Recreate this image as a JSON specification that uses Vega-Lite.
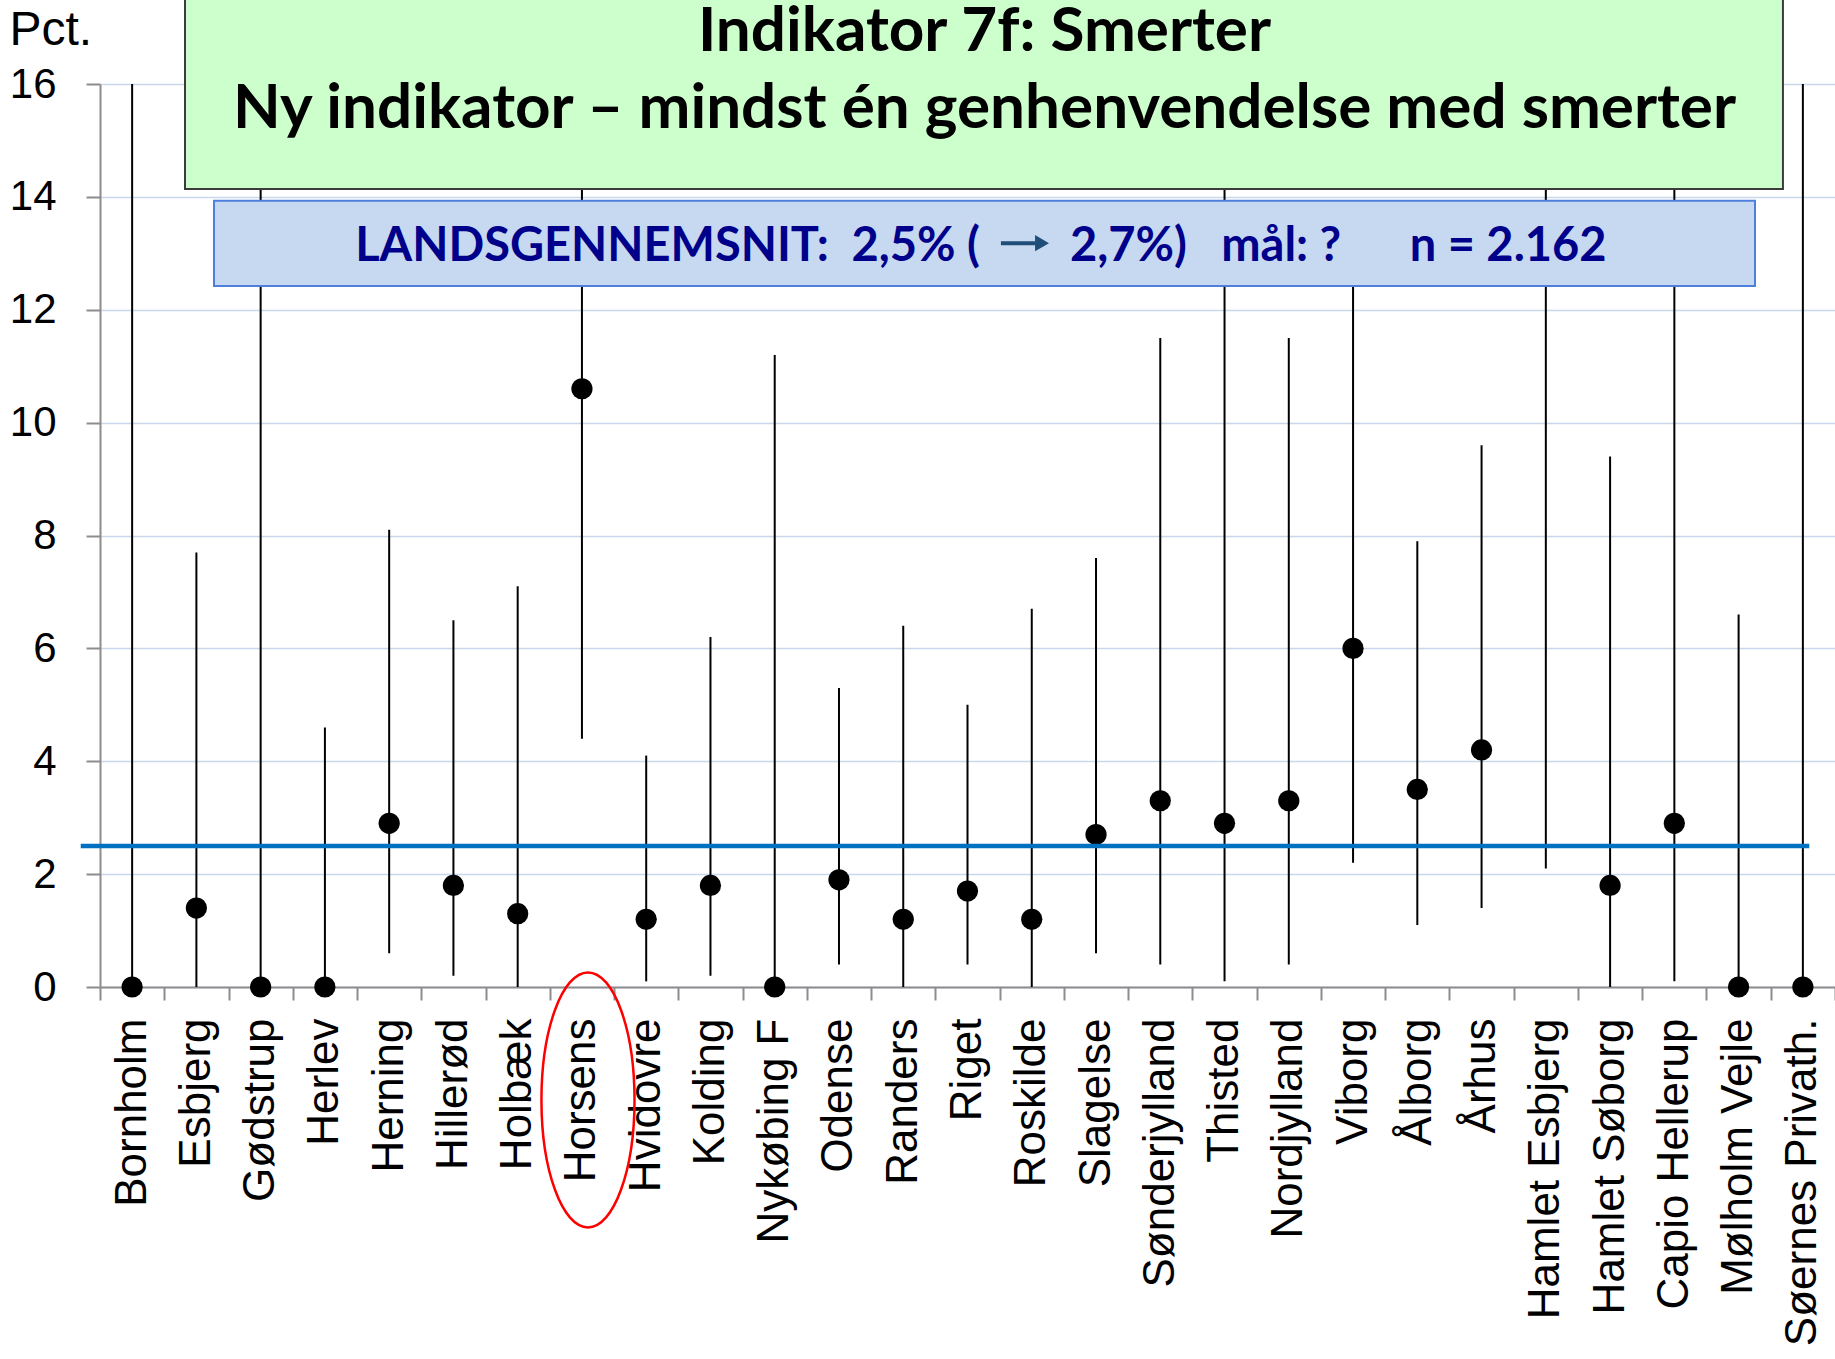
{
  "$schema": "https://vega.github.io/schema/vega-lite/v6.json",
  "autosize": {"type": "none"},
  "width": 1735,
  "height": 903,
  "padding": {"left": 100, "top": 84, "right": 0, "bottom": 372},
  "background": "white",
  "config": {"view": {"stroke": null}, "font": "Liberation Sans"},
  "datasets": {
    "afdelinger": [
      {"afdeling": "Bornholm", "andel": 0, "nedre": 0, "oevre": 16},
      {"afdeling": "Esbjerg", "andel": 1.4, "nedre": 0, "oevre": 7.7},
      {"afdeling": "Gødstrup", "andel": 0, "nedre": 0, "oevre": 16},
      {"afdeling": "Herlev", "andel": 0, "nedre": 0, "oevre": 4.6},
      {"afdeling": "Herning", "andel": 2.9, "nedre": 0.6, "oevre": 8.1},
      {"afdeling": "Hillerød", "andel": 1.8, "nedre": 0.2, "oevre": 6.5},
      {"afdeling": "Holbæk", "andel": 1.3, "nedre": 0, "oevre": 7.1},
      {"afdeling": "Horsens", "andel": 10.6, "nedre": 4.4, "oevre": 16},
      {"afdeling": "Hvidovre", "andel": 1.2, "nedre": 0.1, "oevre": 4.1},
      {"afdeling": "Kolding", "andel": 1.8, "nedre": 0.2, "oevre": 6.2},
      {"afdeling": "Nykøbing F", "andel": 0, "nedre": 0, "oevre": 11.2},
      {"afdeling": "Odense", "andel": 1.9, "nedre": 0.4, "oevre": 5.3},
      {"afdeling": "Randers", "andel": 1.2, "nedre": 0, "oevre": 6.4},
      {"afdeling": "Riget", "andel": 1.7, "nedre": 0.4, "oevre": 5.0},
      {"afdeling": "Roskilde", "andel": 1.2, "nedre": 0, "oevre": 6.7},
      {"afdeling": "Slagelse", "andel": 2.7, "nedre": 0.6, "oevre": 7.6},
      {"afdeling": "Sønderjylland", "andel": 3.3, "nedre": 0.4, "oevre": 11.5},
      {"afdeling": "Thisted", "andel": 2.9, "nedre": 0.1, "oevre": 16},
      {"afdeling": "Nordjylland", "andel": 3.3, "nedre": 0.4, "oevre": 11.5},
      {"afdeling": "Viborg", "andel": 6.0, "nedre": 2.2, "oevre": 13.0},
      {"afdeling": "Ålborg", "andel": 3.5, "nedre": 1.1, "oevre": 7.9},
      {"afdeling": "Århus", "andel": 4.2, "nedre": 1.4, "oevre": 9.6},
      {"afdeling": "Hamlet Esbjerg", "andel": null, "nedre": 2.1, "oevre": 16},
      {"afdeling": "Hamlet Søborg", "andel": 1.8, "nedre": 0, "oevre": 9.4},
      {"afdeling": "Capio Hellerup", "andel": 2.9, "nedre": 0.1, "oevre": 16},
      {"afdeling": "Mølholm Vejle", "andel": 0, "nedre": 0, "oevre": 6.6},
      {"afdeling": "Søernes Privath.", "andel": 0, "nedre": 0, "oevre": 16}
    ],
    "landsgennemsnit": [{"andel": 2.5}]
  },
  "resolve": {"scale": {"x": "independent"}, "axis": {"x": "independent"}},
  "layer": [
    {
      "data": {"name": "afdelinger"},
      "encoding": {
        "x": {
          "field": "afdeling",
          "type": "nominal",
          "sort": null,
          "scale": {"type": "band", "paddingInner": 0, "paddingOuter": 0},
          "axis": {
            "title": null,
            "orient": "bottom",
            "labelAngle": -90,
            "labelAlign": "right",
            "labelBaseline": "middle",
            "labelFont": "Liberation Sans",
            "labelFontSize": 44,
            "labelColor": "black",
            "labelPadding": 18,
            "labelLimit": 1000,
            "labelOverlap": false,
            "labelBound": false,
            "tickBand": "extent",
            "tickSize": 13,
            "tickColor": "#8c8c8c",
            "tickWidth": 2,
            "domainColor": "#8c8c8c",
            "domainWidth": 2,
            "grid": false
          }
        }
      },
      "layer": [
        {
          "mark": {"type": "rule", "color": "black", "strokeWidth": 2},
          "encoding": {
            "y": {
              "field": "nedre",
              "type": "quantitative",
              "scale": {"domain": [0, 16], "nice": false},
              "axis": {
                "values": [0, 2, 4, 6, 8, 10, 12, 14, 16],
                "format": "d",
                "grid": true,
                "gridColor": "#c9d7ec",
                "gridWidth": 1.5,
                "domainColor": "#8c8c8c",
                "domainWidth": 2,
                "tickColor": "#8c8c8c",
                "tickWidth": 2,
                "tickSize": 14,
                "labelFont": "Liberation Sans",
                "labelFontSize": 42,
                "labelColor": "black",
                "labelPadding": 30,
                "title": "Pct.",
                "titleFont": "Liberation Sans",
                "titleFontSize": 48,
                "titleFontWeight": "normal",
                "titleColor": "black",
                "titleAngle": 0,
                "titleAlign": "left",
                "titleBaseline": "alphabetic",
                "titleX": -91,
                "titleY": -40
              }
            },
            "y2": {"field": "oevre"}
          }
        },
        {
          "mark": {"type": "point", "filled": true, "color": "black", "opacity": 1, "size": 450},
          "encoding": {"y": {"field": "andel", "type": "quantitative"}}
        }
      ]
    },
    {
      "data": {"name": "landsgennemsnit"},
      "layer": [
        {
          "mark": {"type": "rule", "color": "#0070c0", "strokeWidth": 4.5},
          "encoding": {
            "x": {"datum": -0.3, "type": "quantitative", "scale": {"domain": [0, 27], "nice": false, "zero": false}, "axis": null},
            "x2": {"datum": 26.6},
            "y": {"field": "andel", "type": "quantitative"}
          }
        },
        {
          "mark": {"type": "rect", "fill": "#ccffcc", "stroke": "#3c3c3c", "strokeWidth": 2},
          "encoding": {
            "x": {"datum": 1.323, "type": "quantitative"},
            "x2": {"datum": 26.19},
            "y": {"datum": 14.14, "type": "quantitative"},
            "y2": {"datum": 18}
          }
        },
        {
          "mark": {"type": "text", "font": "Lato", "fontWeight": "bold", "fontSize": 62, "color": "black", "align": "center", "baseline": "alphabetic", "lineHeight": 77},
          "encoding": {
            "x": {"datum": 13.765, "type": "quantitative"},
            "y": {"datum": 16.584, "type": "quantitative"},
            "text": {"value": ["Indikator 7f: Smerter", "Ny indikator – mindst én genhenvendelse med smerter"]}
          }
        },
        {
          "mark": {"type": "rect", "fill": "#c6d9f1", "stroke": "#4f7fdc", "strokeWidth": 2},
          "encoding": {
            "x": {"datum": 1.774, "type": "quantitative"},
            "x2": {"datum": 25.755},
            "y": {"datum": 12.42, "type": "quantitative"},
            "y2": {"datum": 13.93}
          }
        },
        {
          "mark": {"type": "text", "font": "Lato", "fontWeight": "bold", "fontSize": 47, "color": "#00008b", "align": "right", "baseline": "alphabetic"},
          "encoding": {
            "x": {"datum": 13.694, "type": "quantitative"},
            "y": {"datum": 12.86, "type": "quantitative"},
            "text": {"value": "LANDSGENNEMSNIT:\u00a0\u00a02,5% ("}
          }
        },
        {
          "mark": {"type": "text", "font": "Lato", "fontWeight": "bold", "fontSize": 47, "color": "#00008b", "align": "left", "baseline": "alphabetic"},
          "encoding": {
            "x": {"datum": 15.095, "type": "quantitative"},
            "y": {"datum": 12.86, "type": "quantitative"},
            "text": {"value": "2,7%)\u00a0\u00a0\u00a0mål: ?\u00a0\u00a0\u00a0\u00a0\u00a0\u00a0n = 2.162"}
          }
        },
        {
          "mark": {"type": "rule", "color": "#1f4e79", "strokeWidth": 4},
          "encoding": {
            "x": {"datum": 14.02, "type": "quantitative"},
            "x2": {"datum": 14.56},
            "y": {"datum": 13.18, "type": "quantitative"}
          }
        },
        {
          "mark": {"type": "point", "shape": "triangle-right", "filled": true, "color": "#1f4e79", "opacity": 1, "size": 260},
          "encoding": {
            "x": {"datum": 14.66, "type": "quantitative"},
            "y": {"datum": 13.18, "type": "quantitative"}
          }
        },
        {
          "mark": {
            "type": "point",
            "shape": "M 0,-1 C 0.2016,-1 0.365,-0.5523 0.365,0 C 0.365,0.5523 0.2016,1 0,1 C -0.2016,1 -0.365,0.5523 -0.365,0 C -0.365,-0.5523 -0.2016,-1 0,-1 Z",
            "filled": false,
            "stroke": "#ff0000",
            "strokeWidth": 2.5,
            "opacity": 1,
            "size": 65025
          },
          "encoding": {
            "x": {"datum": 7.594, "type": "quantitative"},
            "y": {"datum": -2.0, "type": "quantitative"}
          }
        }
      ]
    }
  ]
}
